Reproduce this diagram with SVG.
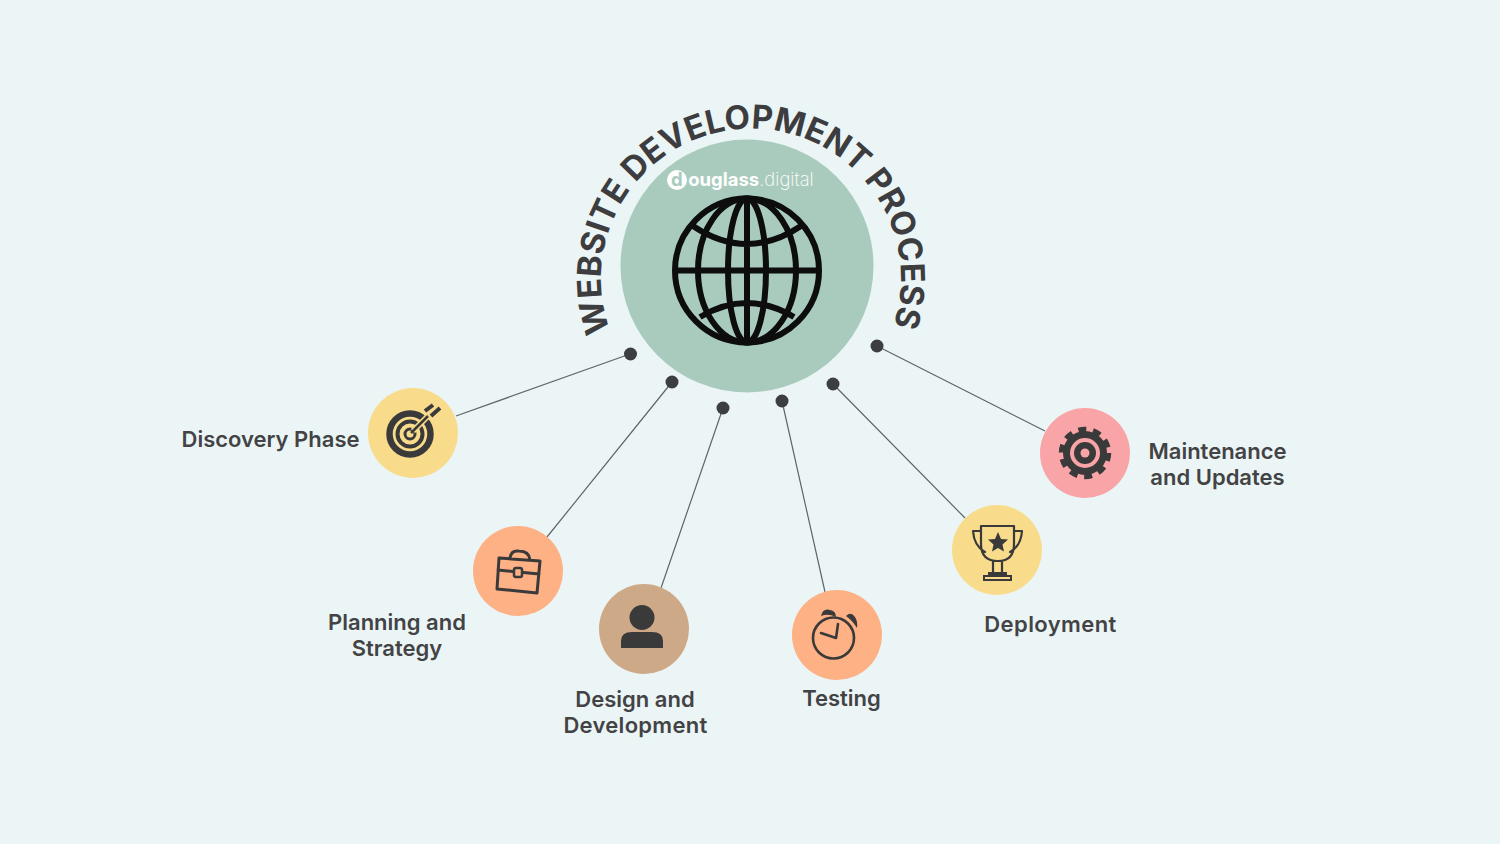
<svg xmlns="http://www.w3.org/2000/svg" xmlns:xlink="http://www.w3.org/1999/xlink" width="1500" height="844" viewBox="0 0 1500 844">
<style>
.lbl{font-family:"Inter","Noto Sans","Liberation Sans",sans-serif;font-weight:600;font-size:22px;fill:#434345;text-anchor:middle}
.title{font-family:"Inter","Noto Sans","Liberation Sans",sans-serif;font-weight:700;font-size:33px;fill:#3d3d40;letter-spacing:0}
.ln{stroke:#5f6468;stroke-width:1.2;fill:none}
.dot{fill:#3c3e42}
.ic{fill:none;stroke:#3b3a3a;stroke-width:2.6;stroke-linejoin:round;stroke-linecap:round}
.fl{fill:#3b3a3a}
.gl{fill:none;stroke:#0d0d0d;stroke-width:6}
</style>
<defs><path id="arc" d="M 636 375 A 150 150 0 1 1 866 375"/></defs>
<rect width="1500" height="844" fill="#ebf5f6"/>
<g id="connectors">
<path class="ln" d="M630 354L456 416M672 382L547 537M723 408L661 588M782 401L825 592M833 384L965 518M877 346L1045 431"/>
<circle class="dot" cx="630.500" cy="354" r="6.500"/><circle class="dot" cx="672" cy="382" r="6.500"/><circle class="dot" cx="723" cy="408" r="6.500"/><circle class="dot" cx="782" cy="401" r="6.500"/><circle class="dot" cx="833" cy="384" r="6.500"/><circle class="dot" cx="877" cy="346" r="6.500"/>
</g>
<g id="center">
<circle cx="747" cy="266" r="126.500" fill="#a9cbbd"/>
<text class="title"><textPath xlink:href="#arc" href="#arc" startOffset="49.6%" text-anchor="middle">WEBSITE DEVELOPMENT PROCESS</textPath></text>
<circle cx="677" cy="180" r="10" fill="#fff"/>
<text x="671" y="186" font-family="Inter,'Liberation Sans',sans-serif" font-size="18.500" font-weight="700" fill="#fff"><tspan fill="#a9cbbd">d</tspan><tspan dx="5.500">ouglass</tspan><tspan font-weight="200">.digital</tspan></text>
<g class="gl">
<circle cx="747" cy="270.500" r="72"/>
<ellipse cx="747" cy="270.500" rx="49" ry="72"/>
<ellipse cx="747" cy="270.500" rx="19" ry="72"/>
<path d="M747 198V343M675 270.500H819M693 226Q747 262 801 226M700 317Q747 289 794 317"/>
</g>
</g>
<g id="discovery">
<circle cx="413" cy="433" r="45" fill="#f8dc8c"/>
<circle cx="410" cy="434" r="20.500" fill="none" stroke="#3b3a3a" stroke-width="6.500"/>
<circle cx="410" cy="434" r="12.500" fill="none" stroke="#3b3a3a" stroke-width="4"/>
<circle cx="410" cy="434" r="5" fill="none" stroke="#3b3a3a" stroke-width="3"/>
<path d="M413 431L432 412" stroke="#f8dc8c" stroke-width="6" fill="none"/>
<path d="M411 433L428 416" stroke="#3b3a3a" stroke-width="2.500" fill="none"/>
<path d="M425 411L433 405M431 416L440 408" stroke="#3b3a3a" stroke-width="4" fill="none"/>
<text class="lbl" x="270.500" y="447">Discovery Phase</text>
</g>
<g id="planning">
<circle cx="518" cy="571" r="45" fill="#fdb184"/>
<path class="ic" style="stroke-width:3" d="M499 558L540 561L537 593L497 589ZM498 570L539 574M510 558Q511 550 519 551Q529 551 530 560"/>
<rect x="514" y="568" width="8" height="9" rx="2" fill="#fdb184" stroke="#3b3a3a" stroke-width="2.500"/>
<text class="lbl" x="397" y="630">Planning and</text><text class="lbl" x="397" y="656">Strategy</text>
</g>
<g id="design">
<circle cx="644" cy="629" r="45" fill="#cda988"/>
<circle class="fl" cx="642" cy="617.500" r="12.500"/>
<path class="fl" d="M621 648V641Q621 632 632 632H652Q663 632 663 641V648Z"/>
<text class="lbl" x="635" y="707">Design and</text><text class="lbl" x="635.500" y="733" letter-spacing=".3">Development</text>
</g>
<g id="testing">
<circle cx="837" cy="635" r="45" fill="#fdb184"/>
<circle class="ic" cx="833.500" cy="638" r="20.500"/>
<path class="ic" d="M838 624L836 638L821 633"/>
<path class="fl" d="M821 616Q823 608 830 610Q836 611 836 617Q828 613 821 616ZM846 616Q851 611 855 617Q858 622 857 628Q852 620 846 616Z"/>
<text class="lbl" x="841.500" y="706">Testing</text>
</g>
<g id="deployment">
<circle cx="997" cy="550" r="45" fill="#f8dc8c"/>
<path class="ic" style="stroke-width:2.200" d="M981 526H1014V544Q1014 561 998 561Q981 561 981 544ZM981 531H973Q974 546 985 552M1014 531H1022Q1021 546 1010 552M993 561V572M1002 561V572"/>
<rect class="fl" x="988" y="572" width="19" height="4"/>
<rect x="984" y="576" width="27" height="4" fill="none" stroke="#3b3a3a" stroke-width="2"/>
<path class="fl" d="M998 532L1001 539L1008 539.500L1002.500 544.500L1004 551.500L998 548L992 551.500L993.500 544.500L988 539.500L995 539Z"/>
<text class="lbl" x="1050.500" y="632" letter-spacing=".4">Deployment</text>
</g>
<g id="maintenance">
<circle cx="1085" cy="453" r="45" fill="#f9a5a8"/>
<circle cx="1085" cy="453" r="23.500" fill="none" stroke="#3b3a3a" stroke-width="5.500" stroke-dasharray="8 6.765"/>
<circle class="fl" cx="1085" cy="453" r="22"/>
<circle cx="1085" cy="453" r="15" fill="#f9a5a8"/>
<circle class="fl" cx="1085" cy="453" r="11"/>
<circle cx="1085" cy="453" r="4.500" fill="#f9a5a8"/>
<text class="lbl" x="1217.500" y="459">Maintenance</text><text class="lbl" x="1217.500" y="485">and Updates</text>
</g>
</svg>
